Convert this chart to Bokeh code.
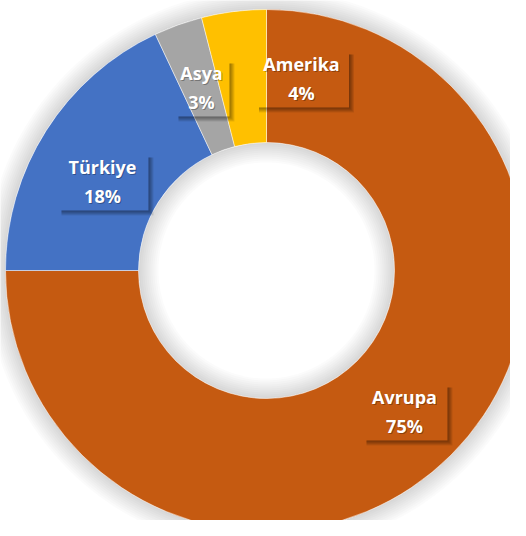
import math
from bokeh.plotting import figure
from bokeh.models import ColumnDataSource
from bokeh.core.properties import value
from bokeh.embed import file_html
from bokeh.resources import INLINE

# ---- data ----
categories = ["Avrupa", "Türkiye", "Asya", "Amerika"]
shares = [75, 18, 3, 4]
colors = ["#C55A11", "#4472C4", "#A5A5A5", "#FFC000"]

# ---- layout (pixels relative to donut centre) ----
W, H = 510, 520
CX, CY = 266, 270          # centre in frame pixels from left / top
R_OUT, R_IN = 261, 128
# label centre offsets (dx, dy) and box widths, per category
label_pos = {"Avrupa": (138, -141), "Türkiye": (-164, 89), "Asya": (-65, 183), "Amerika": (35, 192)}
box_w = {"Avrupa": 86, "Türkiye": 92, "Asya": 56, "Amerika": 95}
BOX_H = 58
LINE_GAP = 14.5

p = figure(width=W, height=H, output_backend="svg", toolbar_location=None,
           x_range=(-CX, W - CX), y_range=(-(H - CY), CY),
           min_border=0, outline_line_color=None)
p.axis.visible = False
p.grid.visible = False
p.background_fill_color = "white"
p.border_fill_color = "white"

# soft shadow outside and inside the ring
for k in range(1, 11):
    p.annulus(x=0, y=0, inner_radius=R_OUT, outer_radius=R_OUT + 2 * k,
              fill_color="black", fill_alpha=0.016, line_color=None)
    p.annulus(x=0, y=0, inner_radius=R_IN - 2 * k, outer_radius=R_IN,
              fill_color="black", fill_alpha=0.016, line_color=None)

total = float(sum(shares))
starts, ends = [], []
a = math.pi / 2
for s in shares:
    starts.append(a)
    a = a - s / total * 2 * math.pi
    ends.append(a)

src = ColumnDataSource(dict(cat=categories, share=shares, color=colors,
                            start=starts, end=ends))
p.annular_wedge(x=0, y=0, inner_radius=R_IN, outer_radius=R_OUT,
                start_angle="start", end_angle="end", direction="clock",
                fill_color="color", line_color="white", line_width=0.8,
                line_alpha=0.6, source=src)

# label boxes shadows (soft, bottom-right)
lx, ly, names, pcts = [], [], [], []
for c, s in zip(categories, shares):
    dx, dy = label_pos[c]
    w = box_w[c]
    l, r = dx - w / 2, dx + w / 2
    b, t = dy - BOX_H / 2, dy + BOX_H / 2
    for i in range(1, 6):
        p.quad(left=r, right=r + i, bottom=b - i, top=t - 5,
               fill_color="black", fill_alpha=0.09, line_color=None)
        p.quad(left=l + 5, right=r, bottom=b - i, top=b,
               fill_color="black", fill_alpha=0.09, line_color=None)
    lx.append(dx)
    ly.append(dy)
    names.append(c)
    pcts.append(f"{s}%")

lab = ColumnDataSource(dict(x=lx, y1=[y + LINE_GAP for y in ly], y2=[y - LINE_GAP for y in ly],
                            name=names, pct=pcts))
for col in ("name", "pct"):
    ycol = "y1" if col == "name" else "y2"
    p.text(x="x", y=ycol, text=col, source=lab, x_offset=1, y_offset=1,
           text_font=value("Open Sans"), text_font_style="bold", text_font_size="18px",
           text_color="black", text_alpha=0.3, text_align="center", text_baseline="middle")
    p.text(x="x", y=ycol, text=col, source=lab,
           text_font=value("Open Sans"), text_font_style="bold", text_font_size="18px",
           text_color="white", text_align="center", text_baseline="middle")

open("out.html", "w").write(file_html(p, INLINE))
